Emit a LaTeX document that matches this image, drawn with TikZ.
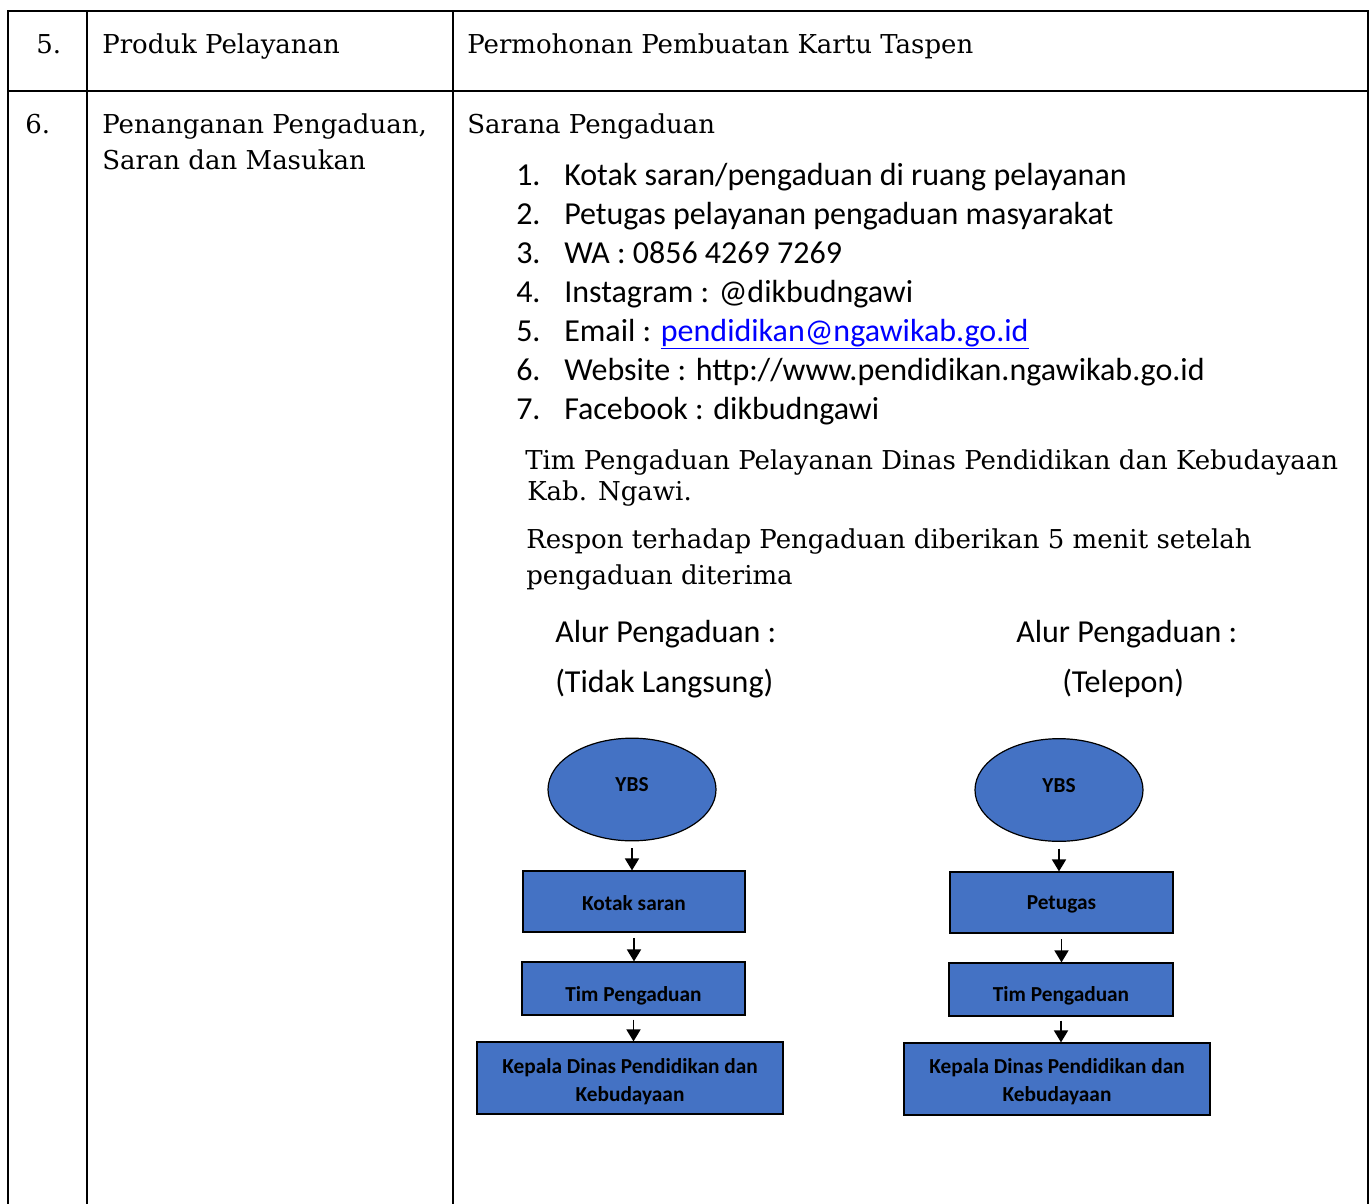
\documentclass[tikz,border=0pt]{standalone}
\usepackage{fontspec}
\setmainfont{DejaVu Serif}
\newfontfamily\calibri{Carlito}
\usetikzlibrary{arrows.meta}
\usetikzlibrary{shapes.geometric}

\definecolor{boxblue}{RGB}{68,114,196}
\definecolor{linkblue}{RGB}{0,0,255}

\tikzset{
  tabline/.style={line width=1.5pt},
  ybsnode/.style={ellipse, draw=black, line width=0.9pt, fill=boxblue, inner sep=0pt,
    minimum width=126pt, minimum height=77pt, text height=3.3pt, text depth=0pt,
    font=\calibri\bfseries\fontsize{16}{19}\selectfont},
  flowbox/.style={rectangle, draw=black, line width=0.9pt, fill=boxblue, inner sep=0pt, align=center,
    font=\calibri\bfseries\fontsize{16}{21.4}\selectfont},
  flowarr/.style={-{Triangle[width=10.5pt,length=9pt]}, line width=1.3pt},
  serif/.style={anchor=base west, inner sep=0pt, font=\fontsize{19.5}{23}\selectfont},
  sans/.style={anchor=base west, inner sep=0pt, font=\calibri\fontsize{24}{29}\selectfont},
}

\begin{document}
\begin{tikzpicture}[x=0.75pt,y=0.75pt,yscale=-1,xscale=1]
\useasboundingbox (0,0) rectangle (1372,1204);

%Table lines
\draw [tabline] (8,1204) -- (8,11) -- (1368,11) -- (1368,1204) ;
\draw [tabline] (8,91) -- (1368,91) ;
\draw [tabline] (87,11) -- (87,1204) ;
\draw [tabline] (453,11) -- (453,1204) ;

% Text Node
\draw (36,53) node [serif] (nofive) {5.};
% Text Node
\draw (102,53) node [serif] (namefive) {Produk Pelayanan};
% Text Node
\draw (467,53) node [serif] (valfive) {Permohonan Pembuatan Kartu Taspen};
% Text Node
\draw (25,133) node [serif] (nosix) {6.};
% Text Node
\draw (102,133) node [serif] (namesix) {Penanganan Pengaduan,};
% Text Node
\draw (102,169) node [serif] (namesixb) {Saran dan Masukan};
% Text Node
\draw (467,133) node [serif] (sarana) {Sarana Pengaduan};

%List
\draw (516,185) node [sans] (numa) {1.};
\draw (564,185) node [sans] (itema) {Kotak saran/pengaduan di ruang pelayanan};
\draw (516,224) node [sans] (numb) {2.};
\draw (564,224) node [sans] (itemb) {Petugas pelayanan pengaduan masyarakat};
\draw (516,263) node [sans] (numc) {3.};
\draw (564,263) node [sans] (itemc) {WA : 0856 4269 7269};
\draw (516,302) node [sans] (numd) {4.};
\draw (564,302) node [sans] (itemd) {Instagram : @dikbudngawi};
\draw (516,341) node [sans] (nume) {5.};
\draw (564,341) node [sans] (iteme) {Email : \textcolor{linkblue}{\underline{pendidikan@ngawikab.go.id}}};
\draw (516,380) node [sans] (numf) {6.};
\draw (564,380) node [sans] (itemf) {Website : http://www.pendidikan.ngawikab.go.id};
\draw (516,419) node [sans] (numg) {7.};
\draw (564,419) node [sans] (itemg) {Facebook : dikbudngawi};

% Text Node
\draw (525,469) node [serif] (timline) {Tim Pengaduan Pelayanan Dinas Pendidikan dan Kebudayaan};
% Text Node
\draw (527,500) node [serif] (kabline) {Kab. Ngawi.};
% Text Node
\draw (526,548) node [serif] (respline) {Respon terhadap Pengaduan diberikan 5 menit setelah};
% Text Node
\draw (526,584) node [serif] (respblin) {pengaduan diterima};

% Text Node
\draw (555,642) node [sans] (alura) {Alur Pengaduan :};
% Text Node
\draw (555,692) node [sans] (jenisa) {(Tidak Langsung)};
% Text Node
\draw (1016,642) node [sans] (alurb) {Alur Pengaduan :};
% Text Node
\draw (1062,692) node [sans] (jenisb) {(Telepon)};

%Flow: tidak langsung
\draw (632,789.5) node [ybsnode] (ybsa) {YBS};
\draw (634,901.5) node [flowbox, minimum width=166.5pt, minimum height=45.75pt, text height=12.8pt, text depth=0pt] (kotak) {Kotak saran};
\draw (633.5,988.5) node [flowbox, minimum width=167.25pt, minimum height=39.75pt, text height=20.2pt, text depth=0pt] (tima) {Tim Pengaduan};
\draw (630,1078) node [flowbox, minimum width=229.5pt, minimum height=54pt, text height=35.6pt, text depth=0pt] (kadisa) {Kepala Dinas Pendidikan dan\\Kebudayaan};

\draw [flowarr, shorten <=5pt] (ybsa.south) -- (ybsa.south |- kotak.north) ;
\draw [flowarr, shorten <=4pt] (kotak.south) -- (kotak.south |- tima.north) ;
\draw [flowarr, shorten <=3pt] (tima.south) -- (tima.south |- kadisa.north) ;

%Flow: telepon
\draw (1059,790) node [ybsnode] (ybsb) {YBS};
\draw (1061.5,902.5) node [flowbox, minimum width=167.25pt, minimum height=45.75pt, text height=11.2pt, text depth=0pt] (petugas) {Petugas};
\draw (1061,989.5) node [flowbox, minimum width=168pt, minimum height=39.75pt, text height=18.3pt, text depth=0pt] (timb) {Tim Pengaduan};
\draw (1057,1079) node [flowbox, minimum width=229.5pt, minimum height=54pt, text height=34pt, text depth=0pt] (kadisb) {Kepala Dinas Pendidikan dan\\Kebudayaan};

\draw [flowarr, shorten <=5pt] (ybsb.south) -- (ybsb.south |- petugas.north) ;
\draw [flowarr, shorten <=4pt] (petugas.south) -- (petugas.south |- timb.north) ;
\draw [flowarr, shorten <=3pt] (timb.south) -- (timb.south |- kadisb.north) ;

\end{tikzpicture}
\end{document}
